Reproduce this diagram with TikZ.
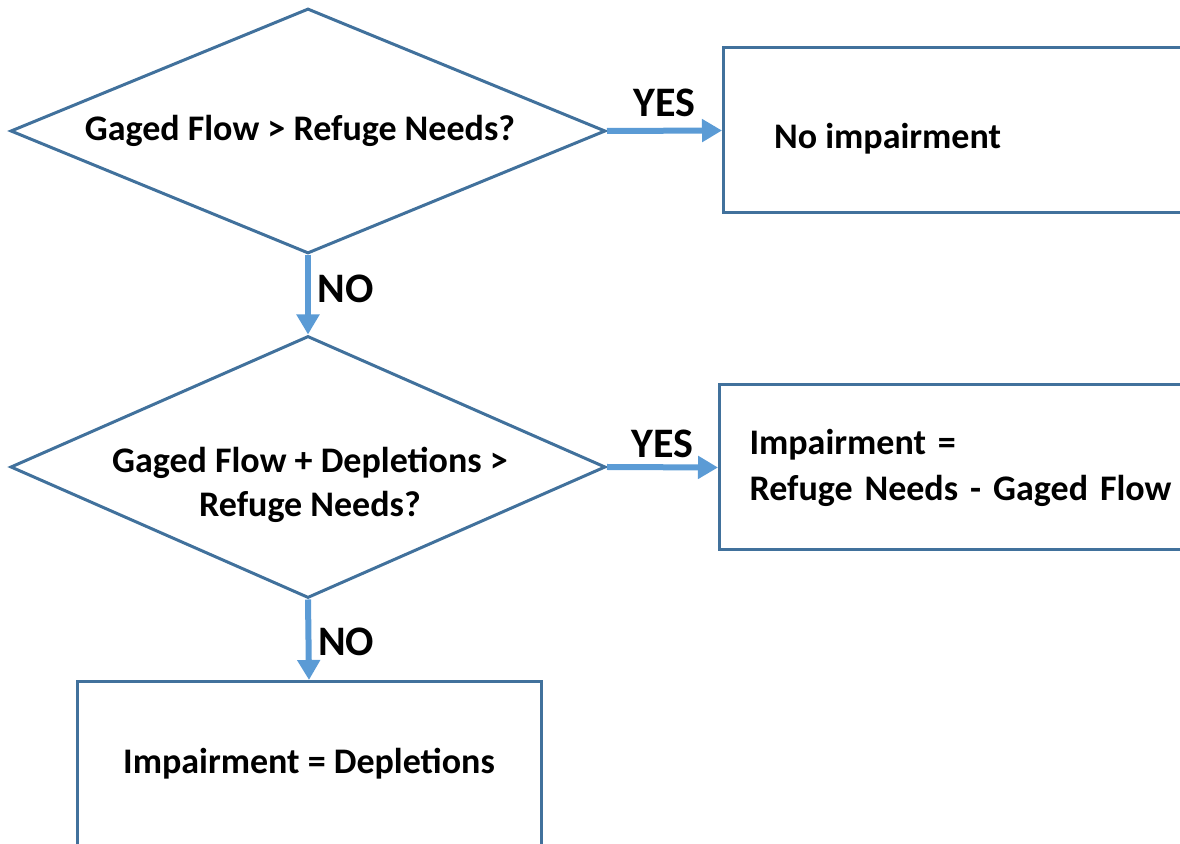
\documentclass[tikz,border=0pt]{standalone}
\usepackage{fontspec}
\setmainfont{Carlito}
\newfontfamily\tightfont[WordSpace=0.8]{Carlito}
\usetikzlibrary{arrows.meta, positioning, shapes.geometric}
\definecolor{flowedge}{HTML}{41719C}
\definecolor{flowarrow}{HTML}{5B9BD5}

\begin{document}
\begin{tikzpicture}[
  x=0.5pt, y=-0.5pt,
  every node/.style={font=\fontsize{18}{22}\selectfont\bfseries},
  decision/.style={diamond, draw=flowedge, line width=1.5pt, inner sep=0pt},
  resultbox/.style={rectangle, draw=flowedge, line width=1.5pt, anchor=west, minimum height=82.5pt, text width=260pt, align=left},
  flowarrow/.style={-{Triangle[length=10pt, width=11pt]}, draw=flowarrow, line width=3pt},
  answer/.style={font=\fontsize{21}{24}\selectfont\bfseries},
]
\useasboundingbox (0,0) rectangle (1180,844);
\clip (0,0) rectangle (1180,844);

% First decision
\node[decision, minimum width=297.5pt, minimum height=122.5pt] (d1) at (308,131) {};
\node (q1) at (300,131) {Gaged Flow > Refuge Needs?};
\node[resultbox, inner xsep=25pt] (r1) at (722,130.5) {};
\node[anchor=west] (t1) at (767,139) {No impairment};

\draw[flowarrow] (d1.east) -- (r1.west) node[answer, midway, above=2pt] (yes1) {YES};

% Second decision
\node[decision, minimum width=297.5pt, minimum height=131pt] (d2) at (308,467) {};
\node[align=center] (q2) at (310,485) {Gaged Flow + Depletions >\\Refuge Needs?};
\node[resultbox, inner xsep=15pt, font=\fontsize{18}{23}\tightfont\bfseries] (r2) at (718,467.5) {Impairment =\\Refuge Needs - Gaged Flow};

\draw[flowarrow] (d1.south) -- (d2.north) node[answer, midway, right=0pt, yshift=3pt] (no1) {NO};
\draw[flowarrow] (d2.east) -- (r2.west) node[answer, midway, above=0pt] (yes2) {YES};

% Last result
\node[rectangle, draw=flowedge, line width=1.5pt, minimum width=232pt, minimum height=82.5pt, anchor=north] (r3) at (309,680) {Impairment = Depletions};

\draw[flowarrow] (d2.south) -- (r3.north) node[answer, midway, right=0pt, yshift=-1pt] (no2) {NO};

\end{tikzpicture}
\end{document}
